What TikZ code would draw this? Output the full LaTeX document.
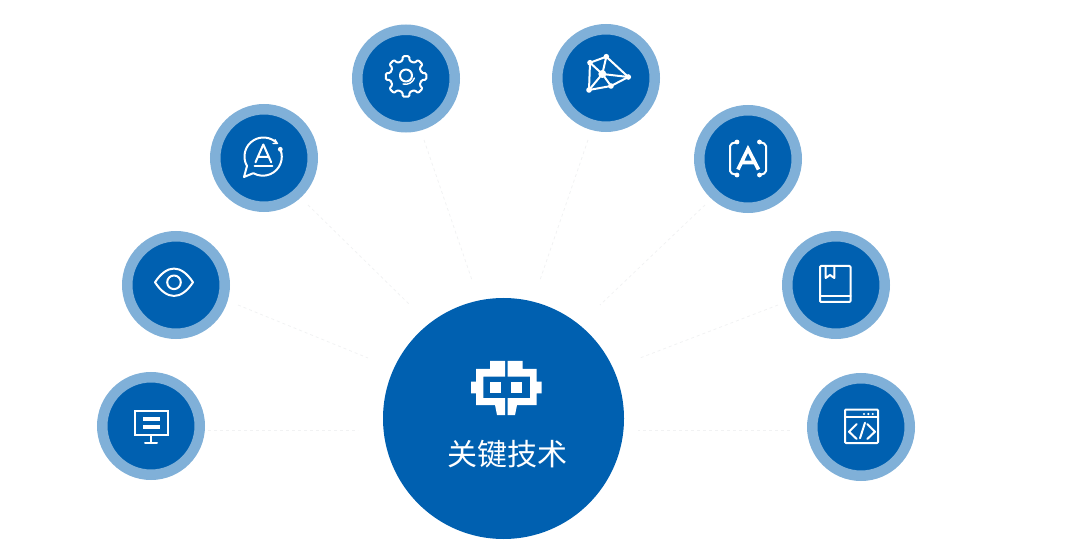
\documentclass[tikz,border=0pt]{standalone}
\usepackage{fontspec}
\newfontfamily\cjkfont{Noto Sans CJK SC}
\usetikzlibrary{positioning,arrows.meta}
\definecolor{coreBlue}{HTML}{0060B0}
\definecolor{ringBlue}{HTML}{80B0D8}
\definecolor{linkGray}{HTML}{F1F2F3}

\begin{document}
\begin{tikzpicture}[
    x=1pt, y=-1pt,
    hub/.style={
        circle, fill=coreBlue, minimum size=241pt, inner sep=0pt
    },
    topic/.style={
        circle, fill=coreBlue, draw=ringBlue,
        line width=10.5pt, minimum size=97.5pt, inner sep=0pt
    },
    link/.style={draw=linkGray, line width=0.8pt, dash pattern=on 3pt off 3pt},
    icon/.style={draw=white, line width=2pt, line join=round, line cap=round},
    dot/.style={fill=white, draw=none}
]
  \useasboundingbox (0,0) rectangle (1074,553);

  % Nodes
  \node[hub] (core) at (503.5,418.5) {};
  \node[text=white, font=\fontsize{30pt}{32pt}\cjkfont, inner sep=0pt] (title) at (507,454) {关键技术};

  \node[topic] (monitor) at (151,426) {};
  \node[topic] (eye) at (176,285) {};
  \node[topic] (chat) at (264,158) {};
  \node[topic] (gear) at (406,78.5) {};
  \node[topic] (net) at (606,78) {};
  \node[topic] (brackets) at (748,159) {};
  \node[topic] (book) at (836,285) {};
  \node[topic] (code) at (861,427) {};

  % Dashed links, free ends
  \coordinate (monitorA) at (208,430);   \coordinate (monitorB) at (358,430);
  \coordinate (eyeA) at (238,305);       \coordinate (eyeB) at (368,358);
  \coordinate (chatA) at (308,205);      \coordinate (chatB) at (410,305);
  \coordinate (gearA) at (424,140);      \coordinate (gearB) at (472,280);
  \coordinate (netA) at (588,140);       \coordinate (netB) at (540,280);
  \coordinate (bracketsA) at (705,205);  \coordinate (bracketsB) at (600,305);
  \coordinate (bookA) at (778,305);      \coordinate (bookB) at (640,358);
  \coordinate (codeA) at (790,430);      \coordinate (codeB) at (638,430);

  \foreach \n in {monitor,eye,chat,gear,net,brackets,book,code}
    \draw[link] (\n A) -- (\n B);

  % Hub icon
  \fill[white] (490,361) -- (505,361) -- (505,376.7) -- (483.3,376.7) -- (483.3,398) -- (505,398)
    -- (505,415) -- (497,415) -- (495,405) -- (476,405) -- (476,393.3) -- (471,393.3)
    -- (471,381.7) -- (476,381.7) -- (476,369) -- (490,369) -- cycle;
  \fill[white] (507.5,361) -- (522.5,361) -- (522.5,369) -- (536.7,369) -- (536.7,381.7) -- (541.5,381.7)
    -- (541.5,393.3) -- (536.7,393.3) -- (536.7,405) -- (517,405) -- (515,415) -- (507.5,415)
    -- (507.5,398) -- (530,398) -- (530,376.7) -- (507.5,376.7) -- cycle;
  \fill[white] (490,382.3) rectangle (500.7,393.3);
  \fill[white] (511,382.3) rectangle (521.7,393.3);

  % Monitor
  \draw[icon, line cap=butt, line join=miter] (135,411) rectangle (167.5,434.5);
  \draw[icon, line cap=butt] (151,435) -- (151,443.3);
  \draw[icon] (145,443.3) -- (157,443.3);
  \fill[white] (142.7,416.5) rectangle (160,420.5);
  \fill[white] (142.7,425) rectangle (160,429);

  % Eye
  \draw[icon] (155,282.3) .. controls (167,264) and (181,264) .. (193,282.3)
    .. controls (181,300.5) and (167,300.5) .. cycle;
  \draw[icon] (174,282.3) circle (6.8);

  % Speech bubble with letter
  \draw[icon] (280.3,149.3) arc[start angle=-23, end angle=120, radius=19]
    -- (244,177) -- (247,166) arc[start angle=150, end angle=313, radius=19];
  \draw[icon] (255.5,162.3) -- (263.3,144.5) -- (271.2,162.3) (258,157) -- (268.6,157);
  \draw[icon] (254.5,165.7) -- (272.3,165.7);
  \fill[dot] (280.3,149.3) circle (2.4);
  \draw[icon, line width=1.2pt] (275,139.5) -- (277.5,143.5) -- (273,143.5);

  % Gear
  \begin{scope}[shift={(406,76.5)}]
    \draw[icon, rounded corners=1.2pt] (-13:16)
      \foreach \a in {0,45,...,315} {
        -- (\a-13:16) -- (\a-9:20.5) -- (\a+9:20.5) -- (\a+13:16)
      } -- cycle;
  \end{scope}
  \draw[icon] (406,75.5) circle (6);
  \draw[icon, line width=1.4pt] (403,84) arc[start angle=105, end angle=20, radius=9.5];

  % Network
  \coordinate (netP1) at (590,62.7);
  \coordinate (netP2) at (606.3,56.7);
  \coordinate (netP3) at (628.3,77);
  \coordinate (netP4) at (611,86);
  \coordinate (netP5) at (589,90);
  \coordinate (netP6) at (602.3,74);
  \draw[icon] (netP1) -- (netP2) -- (netP3) -- (netP4) -- (netP5) -- cycle;
  \foreach \i in {1,...,5}
    \draw[icon] (netP6) -- (netP\i);
  \foreach \i in {1,...,5}
    \fill[dot] (netP\i) circle (2.8);
  \fill[dot] (netP6) circle (4);

  % Letter in brackets
  \draw[icon, line width=3.6pt, line cap=butt, line join=miter] (738,169.5) -- (748,149) -- (758.5,169.5) (741,162.5) -- (755.5,162.5);
  \draw[icon, rounded corners=2pt] (737,142) -- (730,144) -- (730,173) -- (737,175);
  \draw[icon, rounded corners=2pt] (759.5,142) -- (766,144) -- (766,173) -- (759.5,175);
  \foreach \px/\py in {737/142,737/175,759.5/142,759.5/175}
    \fill[dot] (\px,\py) circle (2.4);

  % Book
  \draw[icon, rounded corners=1pt] (820,266) rectangle (850.5,302);
  \draw[icon] (820,296) -- (850.5,296);
  \draw[icon] (825.7,266) -- (825.7,278) -- (830,275) -- (834.3,278) -- (834.3,266);

  % Code window
  \draw[icon, rounded corners=1pt] (845,409.5) rectangle (878,443);
  \draw[icon] (845,417.3) -- (878,417.3);
  \foreach \px in {864,868.3,872.7}
    \fill[dot] (\px,414) circle (1.2);
  \draw[icon] (856.7,424) -- (849,431.7) -- (856.7,439);
  \draw[icon] (867.3,424) -- (875,431.7) -- (867.3,439);
  \draw[icon] (865,422.7) -- (860,438.3);

\end{tikzpicture}
\end{document}
